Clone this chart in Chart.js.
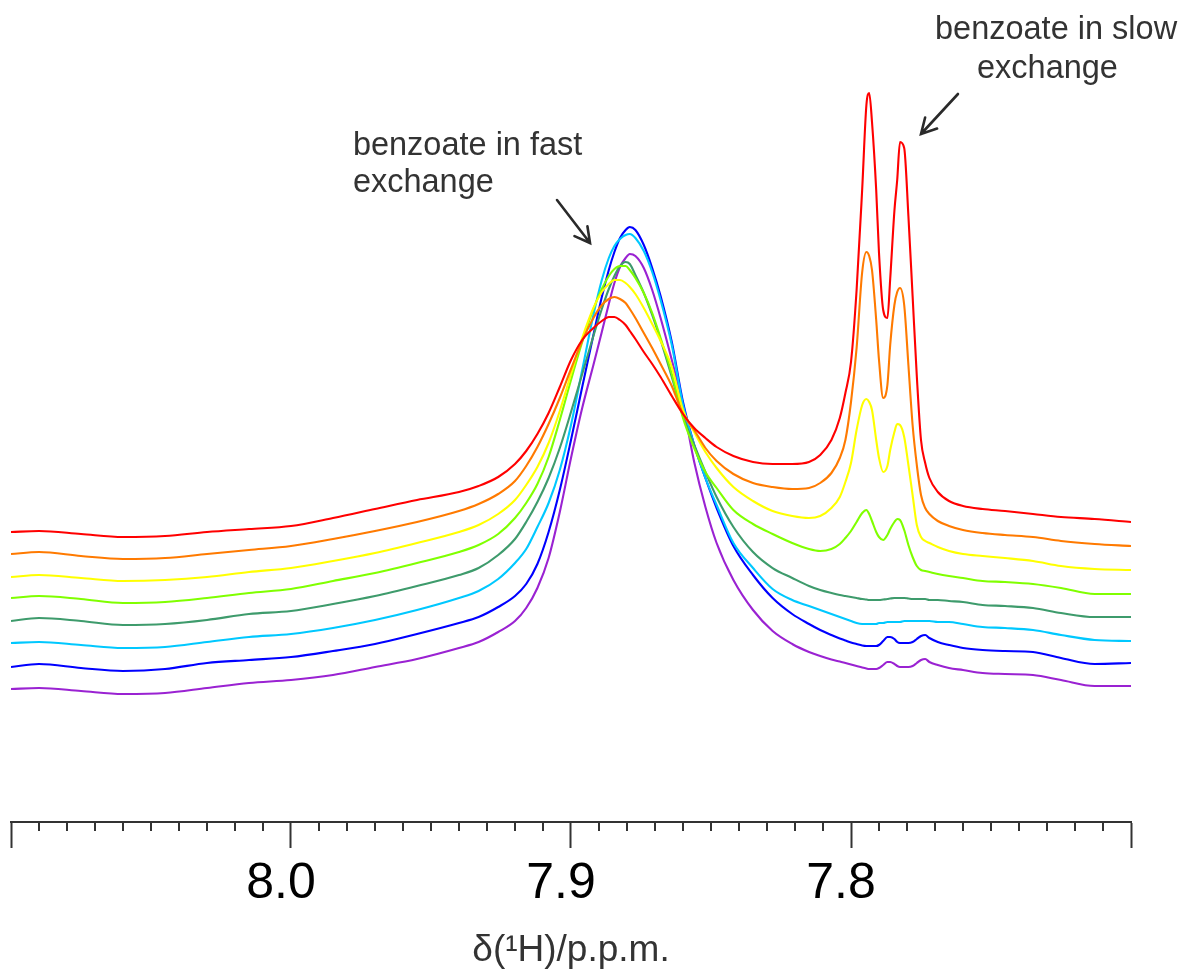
<!DOCTYPE html>
<html>
<head>
<meta charset="utf-8">
<script src="https://cdn.jsdelivr.net/npm/chart.js@4.4.1/dist/chart.umd.min.js"></script>
<style>
html,body{margin:0;padding:0;background:#fff;}
#wrap{width:1182px;height:970px;position:relative;}
</style>
</head>
<body>
<div id="wrap"><canvas id="c"></canvas></div>
<script>
// chemical shift sample points (ppm)
const ppm = [8.100, 8.090, 8.075, 8.060, 8.045, 8.030, 8.015, 8.000, 7.985, 7.970,
  7.955, 7.940, 7.933, 7.926, 7.920, 7.916, 7.912, 7.908, 7.904, 7.900,
  7.896, 7.892, 7.889, 7.8865, 7.8845, 7.8825, 7.8805, 7.879, 7.877, 7.874,
  7.871, 7.868, 7.864, 7.860, 7.856, 7.852, 7.848, 7.842, 7.835, 7.828,
  7.821, 7.815, 7.811, 7.807, 7.804, 7.802, 7.800, 7.798, 7.796, 7.7945,
  7.7935, 7.7925, 7.791, 7.790, 7.7885, 7.787, 7.786, 7.7845, 7.7835, 7.7825,
  7.781, 7.7795, 7.778, 7.7765, 7.775, 7.7735, 7.772, 7.769, 7.765, 7.760,
  7.753, 7.745, 7.735, 7.725, 7.713, 7.700];

// stacked spectra intensities (arbitrary units, offset traces)
const specRed = [29.0, 29.1, 28.8, 28.5, 28.6, 29.0, 29.3, 29.6, 30.4, 31.3,
  32.2, 33.0, 33.6, 34.5, 35.8, 37.1, 38.8, 40.9, 43.5, 46.2,
  48.2, 49.4, 50.1, 50.5, 50.5, 50.2, 49.7, 49.1, 48.3, 47.0,
  45.8, 44.5, 42.6, 40.8, 39.4, 38.4, 37.5, 36.6, 36.0, 35.8,
  35.8, 36.0, 36.7, 38.2, 40.4, 42.9, 46.0, 53.2, 63.3, 71.7,
  72.9, 70.0, 63.2, 56.9, 51.2, 50.4, 54.3, 61.1, 64.2, 68.0,
  67.4, 60.6, 52.6, 44.6, 38.2, 35.9, 34.4, 33.0, 32.1, 31.6,
  31.3, 31.1, 30.8, 30.5, 30.3, 30.0];
const specOrange = [26.8, 27.0, 26.6, 26.3, 26.4, 26.8, 27.2, 27.6, 28.3, 29.1,
  30.0, 31.1, 31.8, 32.8, 34.1, 35.6, 37.5, 39.8, 42.4, 45.3,
  48.1, 50.4, 51.7, 52.3, 52.5, 52.3, 51.9, 51.3, 50.4, 48.9,
  47.4, 45.8, 43.6, 40.8, 39.2, 37.4, 36.1, 34.8, 33.9, 33.5,
  33.3, 33.4, 33.9, 34.9, 36.4, 38.2, 42.0, 47.4, 55.0, 57.0,
  56.6, 55.2, 50.2, 46.2, 42.4, 43.7, 47.7, 51.7, 53.0, 53.4,
  51.7, 45.7, 39.7, 35.7, 32.7, 31.4, 30.8, 30.1, 29.6, 29.2,
  28.9, 28.7, 28.5, 28.1, 27.8, 27.6];
const specYellow = [24.5, 24.7, 24.4, 24.1, 24.2, 24.5, 25.0, 25.4, 26.1, 26.9,
  27.9, 29.0, 29.7, 30.8, 32.2, 33.7, 35.5, 37.9, 41.1, 44.8,
  48.4, 51.4, 53.0, 53.8, 54.2, 54.2, 53.9, 53.5, 52.8, 51.4,
  49.8, 48.1, 45.5, 41.2, 39.0, 37.0, 35.4, 33.5, 32.1, 31.1,
  30.6, 30.4, 30.6, 31.4, 32.5, 34.0, 35.9, 39.2, 41.7, 42.3,
  42.0, 41.2, 38.2, 36.4, 35.0, 35.6, 37.2, 39.0, 39.8, 39.7,
  38.5, 35.7, 32.7, 29.7, 28.5, 28.1, 27.9, 27.5, 27.1, 26.8,
  26.6, 26.4, 26.1, 25.6, 25.3, 25.2];
const specLime = [22.4, 22.6, 22.3, 21.9, 22.0, 22.4, 22.9, 23.3, 24.1, 24.9,
  25.9, 27.0, 27.7, 28.8, 30.4, 31.9, 33.8, 36.5, 40.2, 44.2,
  48.0, 51.3, 53.3, 54.6, 55.3, 55.6, 55.6, 55.2, 54.4, 52.9,
  50.9, 48.4, 44.8, 40.4, 37.4, 35.0, 33.4, 31.2, 29.8, 28.8,
  27.9, 27.3, 27.1, 27.3, 27.8, 28.4, 29.1, 30.0, 30.9, 31.2,
  30.8, 30.1, 29.0, 28.5, 28.2, 28.7, 29.3, 30.0, 30.3, 30.2,
  29.2, 27.7, 26.5, 25.6, 25.2, 25.1, 25.0, 24.8, 24.6, 24.4,
  24.1, 24.0, 23.8, 23.4, 22.8, 22.8];
const specSeaGreen = [20.1, 20.4, 20.1, 19.7, 19.8, 20.2, 20.8, 21.1, 21.8, 22.6,
  23.6, 24.7, 25.4, 26.7, 28.3, 30.0, 32.0, 34.4, 37.4, 41.0,
  44.8, 48.6, 51.3, 53.3, 54.6, 55.6, 56.0, 55.8, 54.7, 52.9,
  50.7, 48.2, 44.5, 40.6, 37.7, 35.0, 32.5, 29.5, 27.0, 25.4,
  24.4, 23.6, 23.2, 22.9, 22.7, 22.6, 22.5, 22.4, 22.3, 22.25,
  22.2, 22.2, 22.2, 22.2, 22.25, 22.3, 22.35, 22.4, 22.4, 22.4,
  22.4, 22.35, 22.3, 22.3, 22.3, 22.3, 22.2, 22.2, 22.1, 22.0,
  21.7, 21.6, 21.4, 20.9, 20.5, 20.5];
const specSky = [17.9, 18.0, 17.7, 17.4, 17.5, 18.0, 18.5, 18.8, 19.4, 20.2,
  21.2, 22.4, 23.1, 24.3, 25.9, 27.3, 29.5, 31.9, 35.2, 39.7,
  45.2, 50.7, 54.2, 56.4, 57.6, 58.3, 58.7, 58.8, 58.4, 57.1,
  55.0, 52.2, 47.7, 41.7, 37.7, 34.4, 31.7, 27.9, 25.4, 23.3,
  22.2, 21.6, 21.2, 20.8, 20.5, 20.3, 20.1, 19.9, 19.8, 19.8,
  19.8, 19.8, 19.8, 19.9, 19.9, 20.0, 20.0, 20.0, 20.0, 20.0,
  20.1, 20.1, 20.1, 20.1, 20.1, 20.1, 20.1, 20.0, 20.0, 19.8,
  19.5, 19.4, 19.2, 18.7, 18.2, 18.1];
const specBlue = [15.5, 15.8, 15.4, 15.1, 15.3, 15.9, 16.2, 16.5, 17.1, 17.8,
  18.8, 19.9, 20.5, 21.5, 22.6, 23.8, 25.8, 29.0, 33.2, 38.2,
  43.5, 48.7, 52.5, 55.2, 57.0, 58.4, 59.2, 59.5, 59.2, 57.7,
  55.4, 52.6, 48.0, 42.0, 37.7, 34.4, 31.4, 27.6, 24.7, 22.4,
  20.8, 19.8, 19.2, 18.7, 18.35, 18.15, 17.95, 17.8, 17.65, 17.6,
  17.6, 17.6, 17.6, 17.7, 18.1, 18.5, 18.5, 18.3, 18.0, 17.9,
  17.9, 17.9, 18.0, 18.3, 18.6, 18.7, 18.4, 18.0, 17.7, 17.4,
  17.2, 17.1, 17.0, 16.4, 15.8, 15.9];
const specViolet = [13.3, 13.4, 13.1, 12.8, 12.9, 13.4, 13.9, 14.2, 14.7, 15.5,
  16.3, 17.4, 18.0, 19.0, 20.1, 21.4, 23.4, 26.4, 31.0, 36.4,
  41.4, 45.7, 49.0, 51.8, 53.9, 55.5, 56.4, 56.8, 56.6, 55.4,
  53.2, 50.4, 46.2, 41.7, 36.0, 31.5, 27.9, 24.2, 21.2, 19.1,
  17.8, 17.0, 16.6, 16.25, 16.05, 15.9, 15.75, 15.6, 15.45, 15.35,
  15.3, 15.3, 15.3, 15.4, 15.7, 16.0, 16.0, 15.8, 15.6, 15.5,
  15.5, 15.5, 15.6, 15.9, 16.2, 16.3, 16.0, 15.7, 15.4, 15.2,
  14.9, 14.8, 14.7, 14.2, 13.6, 13.6];

const spectra = [specRed, specOrange, specYellow, specLime, specSeaGreen, specSky, specBlue, specViolet];
const spectraColors = ['#ff0000', '#ff7a00', '#ffff00', '#80ff00', '#3e9b6c', '#00c8ff', '#0000ff', '#9a22d2'];

// axis
const axisMin = 7.70, axisMax = 8.10;
const tickLabels = ['8.0', '7.9', '7.8'];
const axisTitle = 'δ(¹H)/p.p.m.';

// annotations (anchored in data coordinates)
const noteLines = [
  {text: 'benzoate in fast', ppm: 7.9779, v: 66.7},
  {text: 'exchange', ppm: 7.9779, v: 63.0},
  {text: 'benzoate in slow', ppm: 7.7700, v: 78.3},
  {text: 'exchange', ppm: 7.7550, v: 74.4}
];
const noteArrows = [
  {from: [7.9050, 62.2], to: [7.8932, 57.9]},
  {from: [7.7618, 72.8], to: [7.7750, 68.8]}
];

function isMajor(v) {
  return Math.abs(v * 10 - Math.round(v * 10)) < 1e-6;
}

const tickPositions = [];
for (let k = Math.round(axisMin * 100); k <= Math.round(axisMax * 100); k++) tickPositions.push(k / 100);

const extras = {
  id: 'extras',
  afterDraw(chart) {
    const {ctx, chartArea} = chart;
    const xs = chart.scales.x, ys = chart.scales.y;
    ctx.save();
    // minor ticks
    ctx.strokeStyle = '#333';
    ctx.lineWidth = 2;
    xs.ticks.forEach(t => {
      if (!isMajor(t.value)) {
        const px = Math.round(xs.getPixelForValue(t.value));
        ctx.beginPath();
        ctx.moveTo(px, chartArea.bottom);
        ctx.lineTo(px, chartArea.bottom + 9);
        ctx.stroke();
      }
    });
    // notes
    ctx.fillStyle = '#333';
    ctx.font = '32.5px "Liberation Sans", Arial, Helvetica, sans-serif';
    ctx.textBaseline = 'alphabetic';
    ctx.textAlign = 'left';
    noteLines.forEach(n => ctx.fillText(n.text, xs.getPixelForValue(n.ppm), ys.getPixelForValue(n.v)));
    // arrows
    ctx.strokeStyle = '#2a2a2a';
    ctx.lineWidth = 2.6;
    ctx.lineCap = 'round';
    noteArrows.forEach(a => {
      const x1 = xs.getPixelForValue(a.from[0]), y1 = ys.getPixelForValue(a.from[1]);
      const x2 = xs.getPixelForValue(a.to[0]), y2 = ys.getPixelForValue(a.to[1]);
      const ang = Math.atan2(y2 - y1, x2 - x1);
      const L = 17, sp = 0.5;
      ctx.beginPath();
      ctx.moveTo(x1, y1); ctx.lineTo(x2, y2);
      ctx.moveTo(x2 - L * Math.cos(ang - sp), y2 - L * Math.sin(ang - sp));
      ctx.lineTo(x2, y2);
      ctx.lineTo(x2 - L * Math.cos(ang + sp), y2 - L * Math.sin(ang + sp));
      ctx.stroke();
    });
    ctx.restore();
  }
};

const datasets = spectra.map((s, i) => ({
  data: ppm.map((p, j) => ({x: p, y: s[j]})),
  borderColor: spectraColors[i],
  borderWidth: 2.1,
  pointRadius: 0,
  fill: false,
  cubicInterpolationMode: 'monotone'
}));

new Chart(document.getElementById('c'), {
  type: 'line',
  data: {datasets},
  options: {
    responsive: true,
    maintainAspectRatio: false,
    animation: false,
    events: [],
    layout: {padding: {left: 11, right: 51, top: 0, bottom: 0}},
    plugins: {legend: {display: false}, tooltip: {enabled: false}},
    scales: {
      x: {
        type: 'linear',
        reverse: true,
        min: axisMin,
        max: axisMax,
        afterBuildTicks: (scale) => { scale.ticks = tickPositions.map(v => ({value: v})); },
        ticks: {
          autoSkip: false,
          maxRotation: 0,
          minRotation: 0,
          padding: 6,
          labelOffset: -10,
          color: '#000',
          font: {family: '"Liberation Sans", Arial, Helvetica, sans-serif', size: 50},
          callback: (v) => {
            const s = Number(v).toFixed(1);
            return (isMajor(v) && tickLabels.includes(s)) ? s : '';
          }
        },
        grid: {
          drawOnChartArea: false,
          drawTicks: true,
          tickLength: 26,
          tickWidth: 2,
          tickColor: (ctx) => (ctx.tick && isMajor(ctx.tick.value)) ? '#333' : 'rgba(0,0,0,0)'
        },
        border: {display: true, color: '#333', width: 2},
        title: {
          display: true,
          text: axisTitle,
          color: '#333',
          font: {family: '"Liberation Sans", Arial, Helvetica, sans-serif', size: 37, lineHeight: 1.05},
          padding: {top: 11.15, bottom: 0}
        }
      },
      y: {
        type: 'linear',
        display: false,
        min: 0,
        max: 82.2
      }
    }
  },
  plugins: [extras]
});
</script>
</body>
</html>
